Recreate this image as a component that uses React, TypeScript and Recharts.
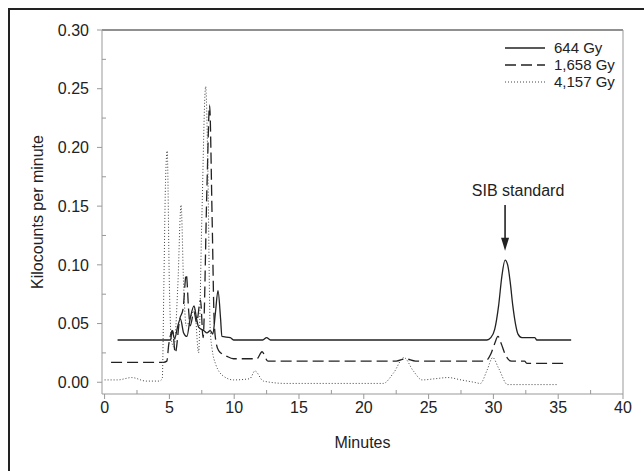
import React from 'react';
import { LineChart, Line, XAxis, YAxis, ReferenceLine } from 'recharts';

// minutes / kilocounts per minute
const lowDoseMinutes = [1.0, 5.1, 5.2, 5.4, 5.65, 5.85, 6.1, 6.35, 6.6, 6.9, 7.1, 7.25, 7.65, 7.9, 8.15, 8.35, 8.55, 8.75, 8.95, 9.05, 9.7, 9.95, 12.2, 12.5, 12.8, 29.5, 29.8, 30.1, 30.4, 30.65, 30.9, 31.1, 31.3, 31.5, 31.7, 31.9, 32.2, 33.2, 33.35, 36.0];
const lowDoseValues = [0.036, 0.036, 0.044, 0.037, 0.048, 0.054, 0.042, 0.039, 0.054, 0.065, 0.054, 0.047, 0.044, 0.042, 0.044, 0.041, 0.059, 0.078, 0.054, 0.039, 0.038, 0.036, 0.036, 0.038, 0.036, 0.036, 0.038, 0.045, 0.065, 0.09, 0.104, 0.1, 0.085, 0.065, 0.05, 0.041, 0.038, 0.038, 0.036, 0.036];

const midDoseMinutes = [0.5, 4.55, 4.8, 4.95, 5.25, 5.45, 5.8, 6.05, 6.3, 6.5, 6.6, 6.9, 7.1, 7.4, 7.6, 7.9, 8.1, 8.3, 8.45, 8.6, 8.8, 9.45, 9.95, 11.75, 12.15, 12.6, 22.5, 23.2, 24.0, 29.35, 29.8, 30.1, 30.35, 30.6, 30.9, 31.4, 32.4, 32.6, 35.5];
const midDoseValues = [0.017, 0.017, 0.018, 0.032, 0.044, 0.025, 0.054, 0.062, 0.092, 0.059, 0.048, 0.06, 0.051, 0.07, 0.038, 0.167, 0.236, 0.138, 0.054, 0.034, 0.027, 0.022, 0.02, 0.02, 0.026, 0.018, 0.018, 0.02, 0.018, 0.018, 0.024, 0.033, 0.039, 0.033, 0.024, 0.018, 0.018, 0.016, 0.016];

const highDoseMinutes = [0.0, 1.0, 2.1, 3.2, 4.2, 4.45, 4.57, 4.7, 4.83, 5.0, 5.15, 5.35, 5.65, 5.9, 6.1, 6.3, 6.6, 6.95, 7.25, 7.5, 7.8, 7.95, 8.15, 8.3, 8.55, 9.2, 9.95, 11.2, 11.6, 12.25, 14.0, 21.5, 22.3, 23.1, 23.8, 24.5, 25.5, 26.5, 27.5, 28.5, 29.0, 29.5, 29.95, 30.4, 31.1, 35.0];
const highDoseValues = [0.002, 0.002, 0.004, 0.001, 0.001, 0.003, 0.08, 0.17, 0.197, 0.082, 0.036, 0.03, 0.082, 0.151, 0.082, 0.048, 0.054, 0.062, 0.025, 0.138, 0.252, 0.195, 0.045, 0.028, 0.016, 0.005, 0.002, 0.003, 0.0096, 0.001, -0.001, -0.001, 0.008, 0.021, 0.01, 0.002, 0.003, 0.004, 0.002, 0.0, -0.001, 0.01, 0.021, 0.012, -0.002, -0.002];

const seriesNames = ['644 Gy', '1,658 Gy', '4,157 Gy'];

const xTicks = [0, 5, 10, 15, 20, 25, 30, 35, 40];
const xMinorTicks = [2.5, 7.5, 12.5, 17.5, 22.5, 27.5, 32.5, 37.5];
const yTicks = [0, 0.05, 0.1, 0.15, 0.2, 0.25, 0.3];
const yMinorTicks = [0.025, 0.075, 0.125, 0.175, 0.225, 0.275];

const toRows = (ms: number[], vs: number[]) => ms.map((m, i) => ({ m, v: vs[i] }));
const lowDose = toRows(lowDoseMinutes, lowDoseValues);
const midDose = toRows(midDoseMinutes, midDoseValues);
const highDose = toRows(highDoseMinutes, highDoseValues);

const FONT = '"Liberation Sans", Arial, sans-serif';
const INK = '#222';
const AXIS = '#999';
const FS = 16;

const lineStyles = [
  { stroke: INK, strokeWidth: 1.3, dash: undefined },
  { stroke: INK, strokeWidth: 1.3, dash: '11 5' },
  { stroke: '#444', strokeWidth: 1, dash: '1 2' },
];

const isMajor = (v: number, list: number[]) => list.some((t) => Math.abs(t - v) < 1e-9);

// major ticks point out, minor ticks point in (tickSize 5, tickMargin 3 on x)
const XTick = (props: any) => {
  const { x, y, payload } = props;
  const axisY = y - 8;
  const major = isMajor(payload.value, xTicks);
  return (
    <g>
      <line x1={x} x2={x} y1={axisY} y2={major ? axisY + 5 : axisY - 4} stroke={AXIS} />
      {major && (
        <text x={x} y={y} dy="0.71em" textAnchor="middle" fontSize={FS} fill={INK} fontFamily={FONT}>{payload.value}</text>
      )}
    </g>
  );
};

// tickSize 5, tickMargin 8 on y
const YTick = (props: any) => {
  const { x, y, payload } = props;
  const axisX = x + 13;
  const major = isMajor(payload.value, yTicks);
  return (
    <g>
      <line x1={axisX} x2={major ? axisX - 5 : axisX + 4} y1={y} y2={y} stroke={AXIS} />
      {major && (
        <text x={x} y={y} dy="0.355em" textAnchor="end" fontSize={FS} fill={INK} fontFamily={FONT}>{payload.value.toFixed(2)}</text>
      )}
    </g>
  );
};

const LegendBox = () => (
  <div style={{ position: 'absolute', left: 505, top: 39, fontFamily: FONT, fontSize: 15, color: INK }}>
    {seriesNames.map((name, i) => (
      <div key={name} style={{ display: 'flex', alignItems: 'center', height: 17 }}>
        <svg width={40} height={10}>
          <line x1={0} y1={5} x2={40} y2={5} stroke={lineStyles[i].stroke} strokeWidth={lineStyles[i].strokeWidth} strokeDasharray={lineStyles[i].dash} />
        </svg>
        <span style={{ marginLeft: 9 }}>{name}</span>
      </div>
    ))}
  </div>
);

const SibArrow = (props: any) => {
  const { x1, y1, x2, y2 } = props;
  return (
    <g>
      <text x={x1 + 13} y={y1 - 9} textAnchor="middle" fontFamily={FONT} fontSize={FS} fill={INK}>SIB standard</text>
      <line x1={x1} y1={y1} x2={x2} y2={y2 - 10} stroke={INK} strokeWidth={1.6} />
      <polygon points={`${x2 - 4},${y2 - 13} ${x2 + 4},${y2 - 13} ${x2},${y2}`} fill={INK} />
    </g>
  );
};

export default function App() {
  return (
    <div style={{ position: 'absolute', left: 0, top: 0, width: 644, height: 471, background: '#fff' }}>
      <div style={{ position: 'absolute', left: 8, top: 8, width: 636, height: 463, borderLeft: `2px solid ${INK}`, borderTop: `2px solid ${INK}` }} />
      <LineChart width={644} height={471} margin={{ top: 30, right: 21, bottom: 47, left: 27 }} style={{ position: 'absolute', left: 0, top: 0 }}>
        <XAxis
          type="number"
          dataKey="m"
          domain={[-0.2, 40]}
          ticks={[...xTicks, ...xMinorTicks]}
          interval={0}
          allowDataOverflow
          height={30}
          stroke={AXIS}
          tickSize={5}
          tickMargin={3}
          tickLine={false}
          tick={<XTick />}
          label={{ value: 'Minutes', position: 'bottom', offset: 13, fontSize: FS, fill: INK, fontFamily: FONT }}
        />
        <YAxis
          type="number"
          domain={[-0.01, 0.3]}
          ticks={[...yTicks, ...yMinorTicks]}
          interval={0}
          allowDataOverflow
          width={75}
          stroke={AXIS}
          tickSize={5}
          tickMargin={8}
          tickLine={false}
          tick={<YTick />}
          label={{ value: 'Kilocounts per minute', angle: -90, position: 'insideLeft', offset: 10, fontSize: FS, fill: INK, fontFamily: FONT, style: { textAnchor: 'middle' } }}
        />
        <ReferenceLine y={0.3} stroke={INK} strokeWidth={1.2} />
        <ReferenceLine x={40} stroke={AXIS} />
        <ReferenceLine segment={[{ x: 30.9, y: 0.151 }, { x: 30.9, y: 0.112 }]} shape={<SibArrow />} />
        <Line data={lowDose} dataKey="v" type="monotone" name={seriesNames[0]} stroke={lineStyles[0].stroke} strokeWidth={lineStyles[0].strokeWidth} dot={false} isAnimationActive={false} />
        <Line data={midDose} dataKey="v" type="monotone" name={seriesNames[1]} stroke={lineStyles[1].stroke} strokeWidth={lineStyles[1].strokeWidth} strokeDasharray={lineStyles[1].dash} dot={false} isAnimationActive={false} />
        <Line data={highDose} dataKey="v" type="monotone" name={seriesNames[2]} stroke={lineStyles[2].stroke} strokeWidth={lineStyles[2].strokeWidth} strokeDasharray={lineStyles[2].dash} dot={false} isAnimationActive={false} />
      </LineChart>
      <LegendBox />
    </div>
  );
}
